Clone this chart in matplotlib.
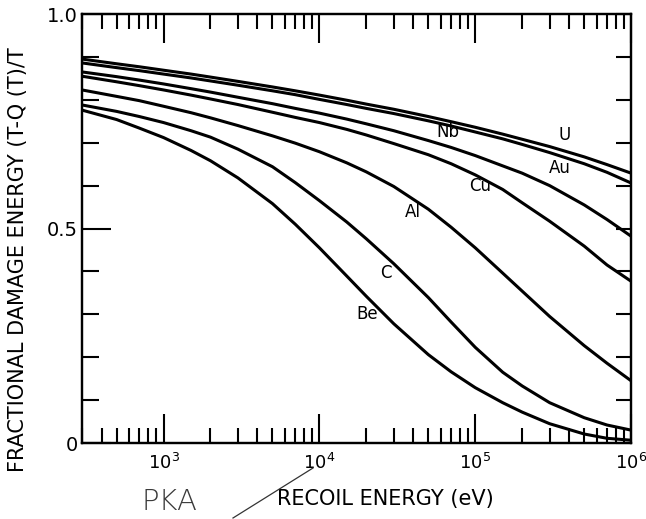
import matplotlib
matplotlib.use("Agg")
import matplotlib.pyplot as plt
from matplotlib.ticker import LogLocator, NullFormatter, FixedLocator, MultipleLocator
import numpy as np

# energia odrzutu (eV)
energia = [300, 500, 700, 1e3, 1.5e3, 2e3, 3e3, 5e3, 7e3, 1e4, 1.5e4, 2e4,
           3e4, 5e4, 7e4, 1e5, 1.5e5, 2e5, 3e5, 5e5, 7e5, 1e6]

# ulamek energii uszkodzen dla kazdego pierwiastka
u_vals  = [0.895, 0.884, 0.877, 0.869, 0.860, 0.853, 0.843, 0.830, 0.821, 0.811, 0.799,
           0.790, 0.778, 0.761, 0.749, 0.736, 0.720, 0.708, 0.691, 0.667, 0.649, 0.629]
au_vals = [0.886, 0.875, 0.868, 0.860, 0.851, 0.844, 0.834, 0.821, 0.812, 0.801, 0.789,
           0.780, 0.768, 0.751, 0.739, 0.725, 0.709, 0.696, 0.677, 0.651, 0.631, 0.606]
nb_vals = [0.865, 0.854, 0.846, 0.837, 0.826, 0.818, 0.806, 0.791, 0.780, 0.769, 0.755,
           0.744, 0.728, 0.705, 0.689, 0.670, 0.646, 0.629, 0.600, 0.555, 0.521, 0.482]
cu_vals = [0.855, 0.842, 0.833, 0.823, 0.811, 0.802, 0.789, 0.771, 0.759, 0.747, 0.731,
           0.718, 0.698, 0.672, 0.651, 0.625, 0.591, 0.560, 0.517, 0.459, 0.415, 0.377]
al_vals = [0.823, 0.808, 0.798, 0.785, 0.770, 0.758, 0.740, 0.716, 0.699, 0.679, 0.653,
           0.632, 0.598, 0.545, 0.503, 0.455, 0.396, 0.354, 0.295, 0.227, 0.186, 0.145]
c_vals  = [0.788, 0.773, 0.761, 0.747, 0.728, 0.713, 0.685, 0.644, 0.607, 0.565, 0.515,
           0.476, 0.418, 0.339, 0.282, 0.223, 0.165, 0.133, 0.094, 0.059, 0.042, 0.030]
be_vals = [0.776, 0.754, 0.734, 0.712, 0.682, 0.658, 0.618, 0.558, 0.510, 0.455, 0.389,
           0.342, 0.278, 0.206, 0.166, 0.129, 0.094, 0.072, 0.045, 0.021, 0.011, 0.0065]

krzywe = [u_vals, au_vals, nb_vals, cu_vals, al_vals, c_vals, be_vals]

# podpisy krzywych: tekst, energia, wartosc
podpisy = ["U", "Au", "Nb", "Cu", "Al", "C", "Be"]
podpis_x = [374000, 347000, 66500, 106700, 39700, 26700, 20400]
podpis_y = [0.718, 0.641, 0.725, 0.599, 0.538, 0.396, 0.301]

fig = plt.figure(figsize=(6.46, 5.19), dpi=100)
ax = fig.add_axes([0.127, 0.1464, 0.850, 0.8266])

for vals in krzywe:
    ax.plot(energia, vals, color="black", lw=2.2, solid_capstyle="butt")

for i in range(len(podpisy)):
    ax.text(podpis_x[i], podpis_y[i], podpisy[i], fontsize=12,
            ha="center", va="center", color="black")

ax.set_xscale("log")
ax.set_xlim(300, 1e6)
ax.set_ylim(0, 1.0)

ax.xaxis.set_major_locator(FixedLocator([1e3, 1e4, 1e5, 1e6]))
ax.xaxis.set_minor_locator(LogLocator(base=10, subs=np.arange(2, 10)))
ax.xaxis.set_minor_formatter(NullFormatter())
ax.set_xticklabels([r"$10^{3}$", r"$10^{4}$", r"$10^{5}$", r"$10^{6}$"])

ax.yaxis.set_major_locator(FixedLocator([0, 0.5, 1.0]))
ax.yaxis.set_minor_locator(MultipleLocator(0.1))
ax.set_yticklabels(["0", "0.5", "1.0"])

ax.tick_params(which="both", direction="in", top=True, right=False,
               width=1.5, color="black")
ax.tick_params(axis="x", which="major", length=21, pad=7, labelsize=13)
ax.tick_params(axis="x", which="minor", length=11)
ax.tick_params(axis="y", which="major", length=21, pad=3, labelsize=14)
ax.tick_params(axis="y", which="minor", length=12)

# prawa os - same krotkie kreski co 0.1
ax2 = ax.twinx()
ax2.set_ylim(0, 1.0)
ax2.yaxis.set_major_locator(MultipleLocator(0.1))
ax2.yaxis.set_minor_locator(plt.NullLocator())
ax2.tick_params(direction="in", length=11, width=1.5, labelright=False)

for a in (ax, ax2):
    for s in a.spines.values():
        s.set_linewidth(1.6)

ax.set_ylabel("FRACTIONAL DAMAGE ENERGY (T-Q (T)/T", fontsize=15)
ax.yaxis.set_label_coords(-0.098, 0.428)
ax.set_xlabel("RECOIL ENERGY (eV)", fontsize=15)
ax.xaxis.set_label_coords(0.552, -0.107)

# odreczny dopisek
fig.text(0.262, 0.033, "PKA", fontsize=21, color="#3a3a3a",
         fontweight="light", ha="center", va="center")
fig.add_artist(plt.Line2D([233/646, 313/646], [1 - 518/519, 1 - 468/519],
                          color="#333333", lw=0.9))

fig.savefig("out.png", dpi=100)
